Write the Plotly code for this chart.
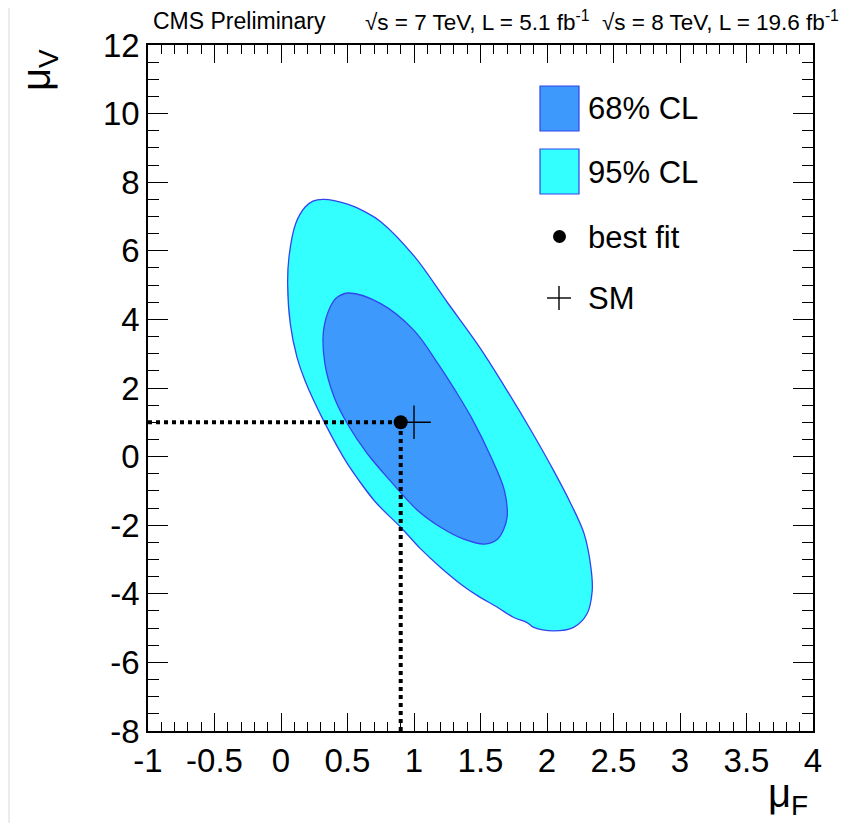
import plotly.graph_objects as go

# ---------------- data ----------------
# 95% CL contour (mu_F, mu_V), clockwise, starting on the lower-left edge
outer_x = [0.70, 0.50, 0.32, 0.18, 0.12, 0.07, 0.05, 0.06, 0.11, 0.18, 0.24,
           0.32, 0.50, 0.64, 0.75, 1.00, 1.25, 1.50, 1.68, 1.88, 2.05, 2.18, 2.28, 2.33, 2.34,
           2.30, 2.20, 2.05, 1.90, 1.85, 1.75, 1.63, 1.48, 1.37, 1.20, 1.05, 0.90]
outer_y = [-1.28, -0.21, 1.05, 2.22, 2.90, 3.87, 5.04, 5.82, 6.79, 7.27, 7.45,
           7.50, 7.36, 7.12, 6.85, 5.85, 4.50, 3.15, 2.05, 0.76, -0.41, -1.38, -2.26, -3.23, -3.91,
           -4.59, -4.98, -5.08, -4.98, -4.84, -4.69, -4.40, -4.06, -3.77, -3.23, -2.69, -2.06]
# 68% CL contour, clockwise, starting on the lower-left edge
inner_x = [0.82, 0.65, 0.50, 0.40, 0.33, 0.32, 0.37, 0.42,
           0.51, 0.75, 1.00, 1.18, 1.31, 1.43, 1.58, 1.68, 1.70, 1.67, 1.63, 1.53, 1.37, 1.20, 1.03]
inner_y = [-0.70, 0.08, 0.95, 1.73, 2.71, 3.68, 4.36, 4.64,
           4.77, 4.46, 3.68, 2.71, 1.93, 1.15, -0.02, -0.99, -1.77, -2.16, -2.40, -2.55, -2.40, -2.06, -1.58]
best_fit = [0.9, 1.0]
sm_point = [1.0, 1.0]

x_range = [-1, 4]
y_range = [-8, 12]
x_ticks = [-1, -0.5, 0, 0.5, 1, 1.5, 2, 2.5, 3, 3.5, 4]
x_ticklabels = ["-1", "-0.5", "0", "0.5", "1", "1.5", "2", "2.5", "3", "3.5", "4"]
y_ticks = [-8, -6, -4, -2, 0, 2, 4, 6, 8, 10, 12]
y_ticklabels = ["-8", "-6", "-4", "-2", "0", "2", "4", "6", "8", "10", "12"]
legend_labels = ["68% CL", "95% CL", "best fit", "SM"]
header_left = "CMS Preliminary"
header_right = "√s = 7 TeV, L = 5.1 fb<sup>-1</sup>  √s = 8 TeV, L = 19.6 fb<sup>-1</sup>"

# ---------------- styling ----------------
OFF = 8                      # page body margin of the browser
W, H = 859 - OFF, 823 - OFF
L, R, T, B = 140, 46, 37, 92
FONT = "Liberation Sans, Arial, Helvetica, sans-serif"
C68 = "#3d99fc"
C95 = "#33ffff"
EDGE = "#3344ee"


def px(x):
    """reference-picture pixel x -> paper coordinate"""
    return (x - OFF - L) / (W - L - R)


def py(y):
    """reference-picture pixel y -> paper coordinate"""
    return (H - B - (y - OFF)) / (H - T - B)


def closed(v):
    # wrap around two points so the spline runs smoothly through the start
    return list(v) + list(v[:2])


fig = go.Figure()

fig.add_trace(go.Scatter(
    x=closed(outer_x), y=closed(outer_y), mode="lines", fill="toself",
    fillcolor=C95, line=dict(color=EDGE, width=1.3, shape="spline", smoothing=1.0),
    hoverinfo="skip", showlegend=False))
fig.add_trace(go.Scatter(
    x=closed(inner_x), y=closed(inner_y), mode="lines", fill="toself",
    fillcolor=C68, line=dict(color=EDGE, width=1.3, shape="spline", smoothing=1.0),
    hoverinfo="skip", showlegend=False))

# dotted guide lines to the best-fit point
fig.add_trace(go.Scatter(
    x=[x_range[0], best_fit[0]], y=[best_fit[1], best_fit[1]], mode="lines",
    line=dict(color="black", width=4, dash="4px,4px"), hoverinfo="skip", showlegend=False))
fig.add_trace(go.Scatter(
    x=[best_fit[0], best_fit[0]], y=[y_range[0], best_fit[1]], mode="lines",
    line=dict(color="black", width=4, dash="4px,4px"), hoverinfo="skip", showlegend=False))

fig.add_trace(go.Scatter(
    x=[sm_point[0]], y=[sm_point[1]], mode="markers",
    marker=dict(symbol="cross-thin", size=24, line=dict(color="black", width=1.4)),
    showlegend=False))
fig.add_trace(go.Scatter(
    x=[best_fit[0]], y=[best_fit[1]], mode="markers",
    marker=dict(symbol="circle", size=14, color="black"), showlegend=False))

axis_common = dict(
    showgrid=False, zeroline=False, showline=True, linecolor="black", linewidth=1.5,
    mirror="ticks", ticks="inside", tickcolor="black", tickwidth=1,
    tickfont=dict(family=FONT, size=33, color="black"), tickmode="array",
)
fig.update_xaxes(**axis_common, range=x_range, tickvals=x_ticks, ticktext=x_ticklabels,
                 ticklen=18,
                 minor=dict(tickmode="linear", tick0=-1, dtick=0.1, ticks="inside",
                            ticklen=9, tickcolor="black", tickwidth=1))
fig.update_yaxes(**axis_common, range=y_range, tickvals=y_ticks, ticktext=y_ticklabels,
                 ticklen=20,
                 minor=dict(tickmode="linear", tick0=-8, dtick=0.5, ticks="inside",
                            ticklen=11, tickcolor="black", tickwidth=1))

shapes = []
# legend boxes and symbols
shapes.append(dict(type="rect", xref="paper", yref="paper", x0=px(540), x1=px(579),
                   y0=py(131), y1=py(86), fillcolor=C68, line=dict(color=EDGE, width=1.2)))
shapes.append(dict(type="rect", xref="paper", yref="paper", x0=px(540), x1=px(579),
                   y0=py(194), y1=py(149), fillcolor=C95, line=dict(color=EDGE, width=1.2)))
shapes.append(dict(type="circle", xref="paper", yref="paper", x0=px(553), x1=px(566),
                   y0=py(243), y1=py(230), fillcolor="black", line=dict(color="black", width=0)))
shapes.append(dict(type="line", xref="paper", yref="paper", x0=px(547), x1=px(571),
                   y0=py(298), y1=py(298), line=dict(color="black", width=1.4)))
shapes.append(dict(type="line", xref="paper", yref="paper", x0=px(559), x1=px(559),
                   y0=py(310), y1=py(286), line=dict(color="black", width=1.4)))
# faint remains of the grey slide border on the left
shapes.append(dict(type="rect", xref="paper", yref="paper", layer="below",
                   x0=px(8), x1=px(10), y0=py(823), y1=py(8),
                   fillcolor="#ececec", line=dict(width=0)))

annotations = []
leg_y = [108, 172, 237, 298]
for lab, yy in zip(legend_labels, leg_y):
    annotations.append(dict(text=lab, xref="paper", yref="paper", x=px(586), y=py(yy),
                            xanchor="left", yanchor="middle", showarrow=False,
                            font=dict(family=FONT, size=31, color="black")))
annotations.append(dict(text=header_left, xref="paper", yref="paper", x=px(151), y=py(21),
                        xanchor="left", yanchor="middle", showarrow=False,
                        font=dict(family=FONT, size=23, color="black")))
annotations.append(dict(text=header_right, xref="paper", yref="paper", x=px(363), y=py(21),
                        xanchor="left", yanchor="middle", showarrow=False,
                        font=dict(family=FONT, size=22.5, color="black")))
annotations.append(dict(text="μ<sub>V</sub>", xref="paper", yref="paper", x=px(39), y=py(70),
                        xanchor="center", yanchor="middle", showarrow=False, textangle=-90,
                        font=dict(family=FONT, size=40, color="black")))
annotations.append(dict(text="μ<sub>F</sub>", xref="paper", yref="paper", x=px(766), y=py(823),
                        xanchor="left", yanchor="bottom", showarrow=False,
                        font=dict(family=FONT, size=40, color="black")))

fig.update_layout(
    width=W, height=H, margin=dict(l=L, r=R, t=T, b=B, autoexpand=False),
    paper_bgcolor="white", plot_bgcolor="white", showlegend=False,
    shapes=shapes, annotations=annotations,
)

fig.write_html("out.html")
